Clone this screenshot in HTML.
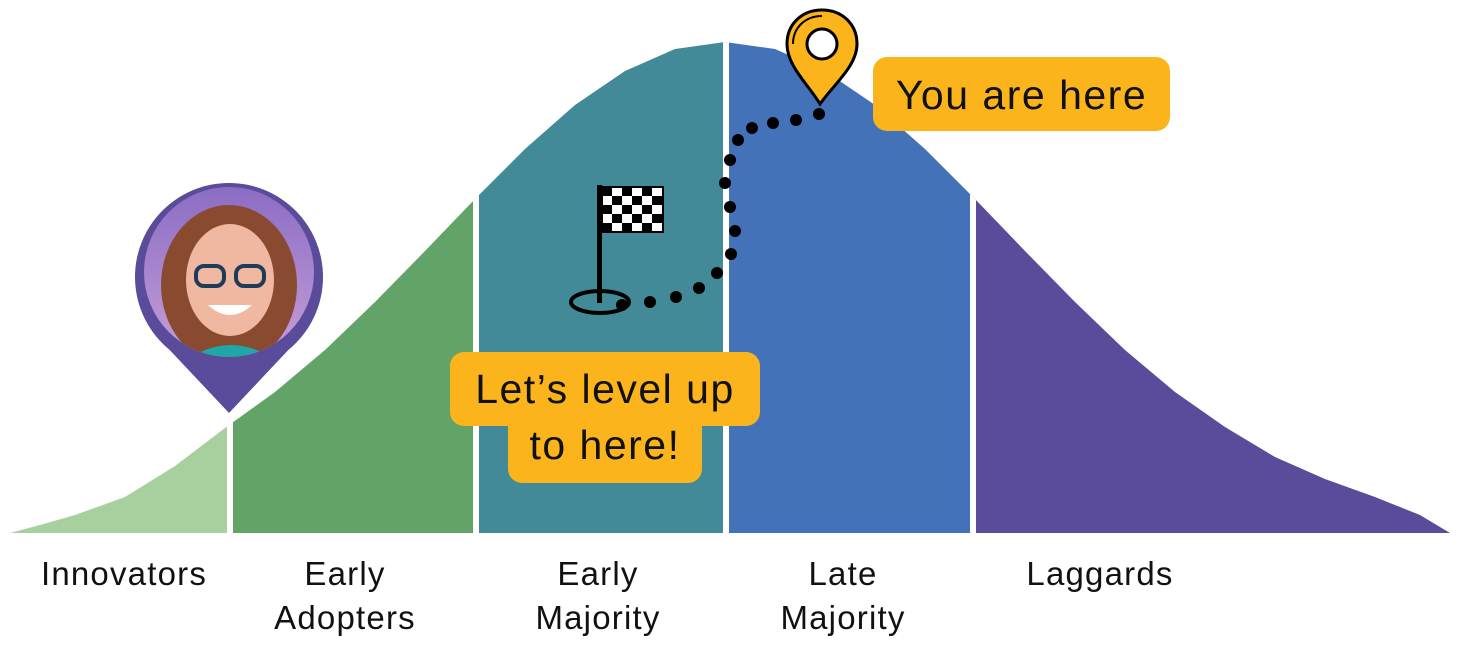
<!DOCTYPE html>
<html><head><meta charset="utf-8"><style>
html,body{margin:0;padding:0;background:#fff;}
body{width:1462px;height:653px;overflow:hidden;position:relative;font-family:"Liberation Sans",sans-serif;}
.lbl{position:absolute;font-size:33px;letter-spacing:1.2px;color:#111;text-align:center;line-height:44px;transform:translateX(-50%);white-space:nowrap;}
.bub{position:absolute;background:#fbb41c;border-radius:14px;color:#111;font-size:41px;letter-spacing:1.5px;}
</style></head><body>
<svg width="1462" height="653" style="position:absolute;left:0;top:0">
<defs>
<clipPath id="bell"><path d="M10,533 L40,525 L75,515 L125,497 L175,466 L225,428 L275,392 L325,350 L375,302 L425,251 L475,199 L525,149 L575,105 L625,71 L675,49 L725,42 L775,49 L825,71 L875,105 L925,149 L975,199 L1025,251 L1075,302 L1125,350 L1175,392 L1225,427 L1275,457 L1325,479 L1375,497 L1420,515 L1450,533 Z"/></clipPath>
<clipPath id="face"><circle cx="229" cy="272" r="85"/></clipPath>
<linearGradient id="bg" x1="0" y1="0" x2="0" y2="1"><stop offset="0" stop-color="#8a6cc4"/><stop offset="1" stop-color="#c9a0d8"/></linearGradient>
</defs>
<g clip-path="url(#bell)">
<rect x="0" y="0" width="230" height="540" fill="#a8cf9e"/>
<rect x="230" y="0" width="246" height="540" fill="#62a467"/>
<rect x="476" y="0" width="250" height="540" fill="#438a98"/>
<rect x="726" y="0" width="247" height="540" fill="#4472b8"/>
<rect x="973" y="0" width="490" height="540" fill="#5a4c9a"/>
<rect x="227" y="0" width="6" height="540" fill="#fff"/>
<rect x="473" y="0" width="6" height="540" fill="#fff"/>
<rect x="723" y="0" width="6" height="540" fill="#fff"/>
<rect x="970" y="0" width="6" height="540" fill="#fff"/>
</g>
<path d="M165,345 L229,413 L293,345 Z" fill="#5a4c9a"/>
<circle cx="229" cy="277" r="94" fill="#5a4c9a"/>
<g clip-path="url(#face)">
<rect x="140" y="185" width="180" height="180" fill="url(#bg)"/>
<ellipse cx="229" cy="285" rx="68" ry="80" fill="#8a4a30"/>
<ellipse cx="230" cy="280" rx="44" ry="56" fill="#f0b8a0"/>
<path d="M175,370 Q229,320 290,370 Z" fill="#1fa7a8"/>
<rect x="196" y="266" width="28" height="20" rx="8" fill="none" stroke="#1e3c5a" stroke-width="4"/>
<rect x="236" y="266" width="28" height="20" rx="8" fill="none" stroke="#1e3c5a" stroke-width="4"/>
<path d="M208,305 Q230,325 252,305 Z" fill="#fff"/>
</g>
<g fill="#000">
<circle cx="622" cy="305" r="6"/><circle cx="650" cy="302" r="6"/><circle cx="676" cy="297" r="6"/><circle cx="699" cy="288" r="6"/><circle cx="717" cy="273" r="6"/><circle cx="731" cy="254" r="6"/><circle cx="735" cy="231" r="6"/><circle cx="730" cy="207" r="6"/><circle cx="725" cy="183" r="6"/><circle cx="730" cy="160" r="6"/><circle cx="738" cy="140" r="6"/><circle cx="752" cy="128" r="6"/><circle cx="773" cy="123" r="6"/><circle cx="796" cy="120" r="6"/><circle cx="819" cy="114" r="6"/>
</g>
<ellipse cx="600" cy="302" rx="29" ry="11" fill="none" stroke="#000" stroke-width="4"/>
<rect x="597" y="185" width="5" height="118" fill="#000"/>
<g fill="#000">
<rect x="602" y="187" width="61" height="45" fill="#fff" stroke="#000" stroke-width="2"/>
<rect x="602" y="187" width="10" height="9"/><rect x="622" y="187" width="10" height="9"/><rect x="642" y="187" width="10" height="9"/>
<rect x="612" y="196" width="10" height="9"/><rect x="632" y="196" width="10" height="9"/><rect x="652" y="196" width="11" height="9"/>
<rect x="602" y="205" width="10" height="9"/><rect x="622" y="205" width="10" height="9"/><rect x="642" y="205" width="10" height="9"/>
<rect x="612" y="214" width="10" height="9"/><rect x="632" y="214" width="10" height="9"/><rect x="652" y="214" width="11" height="9"/>
<rect x="602" y="223" width="10" height="9"/><rect x="622" y="223" width="10" height="9"/><rect x="642" y="223" width="10" height="9"/>
</g>
<path d="M820,104 C808,84 787,66 787,44 C787,24 802,10 822,10 C842,10 857,24 857,44 C857,66 834,84 820,104 Z" fill="#fbb41c" stroke="#000" stroke-width="3"/>
<path d="M793,44 C793,28 805,16 822,16" fill="none" stroke="#000" stroke-width="2"/>
<circle cx="822" cy="44" r="15" fill="#fff" stroke="#000" stroke-width="3"/>
</svg>
<div class="bub" style="left:873px;top:57px;width:297px;height:74px;line-height:76px;text-align:center;">You are here</div>
<div class="bub" style="left:450px;top:352px;width:310px;height:74px;"></div>
<div class="bub" style="left:508px;top:410px;width:194px;height:73px;"></div>
<div style="position:absolute;left:450px;top:361px;width:310px;text-align:center;font-size:41px;letter-spacing:1.5px;line-height:56px;color:#111;">Let’s level up<br>to here!</div>
<div class="lbl" style="left:124px;top:552px;">Innovators</div>
<div class="lbl" style="left:345px;top:552px;">Early<br>Adopters</div>
<div class="lbl" style="left:598px;top:552px;">Early<br>Majority</div>
<div class="lbl" style="left:843px;top:552px;">Late<br>Majority</div>
<div class="lbl" style="left:1100px;top:552px;">Laggards</div>
</body></html>
